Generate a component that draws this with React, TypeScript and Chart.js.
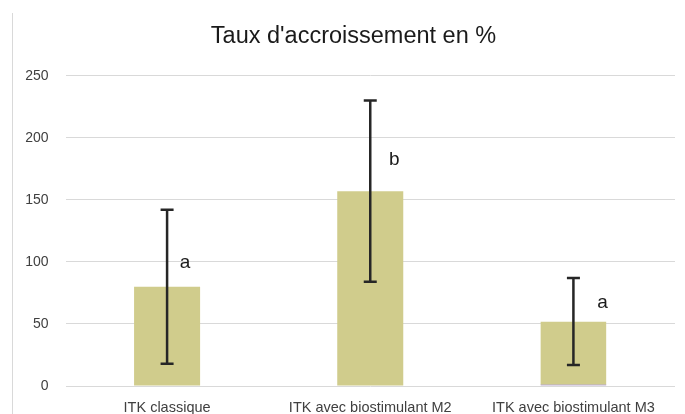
import React, { useEffect, useRef } from "react";
import { Chart, registerables } from "chart.js";

Chart.register(...registerables);

const categories = ["ITK classique", "ITK avec biostimulant M2", "ITK avec biostimulant M3"];
const means = [80, 157, 52];
const errors = [62, 73, 35];
const groupLetters = ["a", "b", "a"];
const letterValues = [95, 178, 63];
const yMin = 0;
const yMax = 250;
const yStep = 50;
const titleText = "Taux d'accroissement en %";

const FONT = "'Liberation Sans', Arial, sans-serif";

const frameAndTitle = {
  id: "frameAndTitle",
  beforeDraw(chart: any) {
    const ctx = chart.ctx;
    ctx.save();
    ctx.fillStyle = "#d9d9d9";
    ctx.fillRect(12, 13, 1, chart.height - 13);
    ctx.fillStyle = "#1a1a1a";
    ctx.font = `23.5px ${FONT}`;
    ctx.textAlign = "center";
    ctx.textBaseline = "alphabetic";
    ctx.fillText(titleText, 353.5, 43.3);
    ctx.restore();
  },
};

const errorBars = {
  id: "errorBars",
  afterDatasetsDraw(chart: any) {
    const ctx = chart.ctx;
    const y = chart.scales.y;
    const meta = chart.getDatasetMeta(0);
    ctx.save();
    ctx.strokeStyle = "#262626";
    ctx.lineWidth = 2.5;
    meta.data.forEach((bar: any, i: number) => {
      const x = bar.x;
      const top = y.getPixelForValue(means[i] + errors[i]);
      const bot = y.getPixelForValue(means[i] - errors[i]);
      ctx.beginPath();
      ctx.moveTo(x, top);
      ctx.lineTo(x, bot);
      ctx.moveTo(x - 6.5, top);
      ctx.lineTo(x + 6.5, top);
      ctx.moveTo(x - 6.5, bot);
      ctx.lineTo(x + 6.5, bot);
      ctx.stroke();
    });
    ctx.restore();
  },
};

const letterOffsets = [18, 24, 29];
const groupLabels = {
  id: "groupLabels",
  afterDraw(chart: any) {
    const ctx = chart.ctx;
    const y = chart.scales.y;
    const meta = chart.getDatasetMeta(0);
    ctx.save();
    ctx.fillStyle = "#1a1a1a";
    ctx.font = `19px ${FONT}`;
    ctx.textAlign = "center";
    ctx.textBaseline = "alphabetic";
    meta.data.forEach((bar: any, i: number) => {
      ctx.fillText(groupLetters[i], bar.x + letterOffsets[i], y.getPixelForValue(letterValues[i]));
    });
    ctx.restore();
  },
};

export default function App() {
  const ref = useRef<HTMLCanvasElement>(null);
  useEffect(() => {
    if (!ref.current) return;
    const chart = new Chart(ref.current, {
      type: "bar",
      data: {
        labels: categories,
        datasets: [
          {
            data: means,
            backgroundColor: "#d0cc8c",
            borderColor: ["rgba(0,0,0,0)", "rgba(0,0,0,0)", "#7b5ea7"],
            borderWidth: [0, 0, { top: 0, left: 0, right: 0, bottom: 1 }] as any,
            borderSkipped: false,
            barPercentage: 0.325,
            categoryPercentage: 1,
          },
        ],
      },
      options: {
        responsive: false,
        animation: false,
        devicePixelRatio: 1,
        layout: { padding: { left: 12, right: 10, top: 75.7, bottom: 0 } },
        plugins: {
          legend: { display: false },
          tooltip: { enabled: false },
          title: { display: false },
        },
        scales: {
          x: {
            grid: { display: false, drawTicks: false },
            border: { display: false },
            ticks: {
              color: "#404040",
              font: { family: FONT, size: 14.5 },
              padding: 13,
              maxRotation: 0,
              autoSkip: false,
            },
            afterFit: (scale: any) => {
              scale.height = 28;
            },
          },
          y: {
            min: yMin,
            max: yMax,
            grid: { color: "#d9d9d9", lineWidth: 1, drawTicks: false },
            border: { display: false },
            ticks: {
              stepSize: yStep,
              color: "#404040",
              font: { family: FONT, size: 14 },
              padding: 17,
            },
            afterFit: (scale: any) => {
              scale.width = 53.5;
            },
          },
        },
      },
      plugins: [frameAndTitle, errorBars, groupLabels],
    });
    return () => chart.destroy();
  }, []);
  return (
    <div style={{ position: "absolute", left: 0, top: 0, width: 685, height: 414, background: "#fff" }}>
      <canvas ref={ref} width={685} height={414} style={{ display: "block" }} />
    </div>
  );
}
